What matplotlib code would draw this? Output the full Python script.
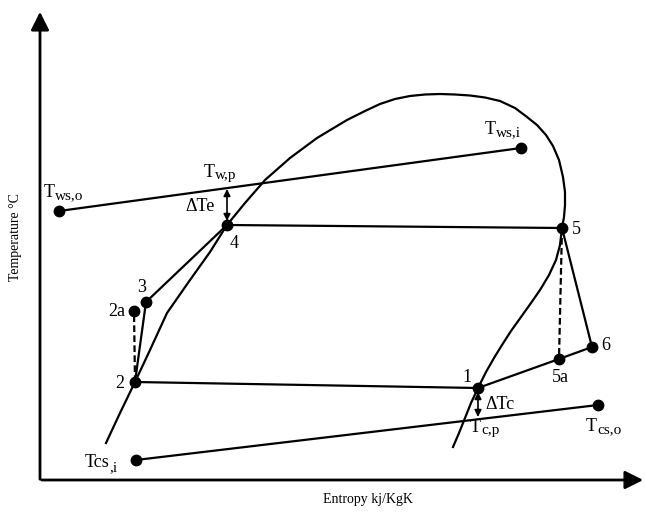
import matplotlib.pyplot as plt

plt.rcParams['font.family'] = ['Liberation Serif', 'DejaVu Serif']

# diagram drawn in image units (x = entropy, y = temperature, y grows downward)
dome_s = [106, 120, 135, 150, 167, 190, 210, 227, 245, 265, 290, 317, 347, 365, 380,
          395, 410, 425, 440, 455, 470, 485, 500, 515, 527, 537, 546, 553, 559, 563,
          565, 565, 564, 562, 560, 556, 549, 540, 531, 521, 511, 502, 494, 486, 478,
          471, 465, 459, 453]
dome_t = [443, 413, 382, 350, 313, 280, 252, 225, 203, 180, 158, 138, 120, 111, 104,
          99, 96, 94.5, 94, 94.5, 95.5, 97.5, 101, 108, 117, 125, 135, 146, 160, 177,
          192, 205, 217, 228, 245, 260, 275, 290, 303, 317, 331, 345, 358, 372, 388,
          403, 418, 433, 447]

state_names = ['1', '2', '2a', '3', '4', '5', '5a', '6']
state_s = [478, 135, 134, 146, 227, 562, 559, 592]
state_t = [388, 382, 311, 302, 225, 228, 359, 347]

# secondary fluid lines: water (evaporator) and cooling (condenser)
ws_s = [59, 521]
ws_t = [211, 148]
cs_s = [136, 598]
cs_t = [460, 405]

fig = plt.figure(figsize=(6.46, 5.12), dpi=100)
ax = fig.add_axes([0, 0, 1, 1])
ax.set_xlim(0, 646)
ax.set_ylim(512, 0)
ax.axis('off')

P = dict(zip(state_names, zip(state_s, state_t)))
lw = 1.6

ax.plot(dome_s, dome_t, color='black', lw=lw)

for a, b in [('2', '3'), ('3', '4'), ('4', '5'), ('5', '6'), ('6', '5a'), ('5a', '1'), ('1', '2')]:
    ax.plot([P[a][0], P[b][0]], [P[a][1], P[b][1]], color='black', lw=lw)
for a, b in [('2', '2a'), ('5', '5a')]:
    ax.plot([P[a][0], P[b][0]], [P[a][1], P[b][1]], color='black', lw=lw, ls=(0, (3, 1.5)))

ax.plot(ws_s, ws_t, color='black', lw=lw)
ax.plot(cs_s, cs_t, color='black', lw=lw)

ax.plot(state_s, state_t, 'o', color='black', ms=7.5)
ax.plot(ws_s, ws_t, 'o', color='black', ms=7.5)
ax.plot(cs_s, cs_t, 'o', color='black', ms=7.5)

# axes arrows
ax.annotate('', xy=(40, 9), xytext=(40, 482),
            arrowprops=dict(arrowstyle='-|>,head_length=1.1,head_width=0.55', color='black', lw=2))
ax.annotate('', xy=(646, 480), xytext=(39, 480),
            arrowprops=dict(arrowstyle='-|>,head_length=1.1,head_width=0.55', color='black', lw=2))

# temperature differences
ax.annotate('', xy=(227, 189), xytext=(227, 221),
            arrowprops=dict(arrowstyle='<|-|>,head_length=0.4,head_width=0.2', color='black', lw=1.2,
                            shrinkA=0, shrinkB=0))
ax.annotate('', xy=(478, 392), xytext=(478, 417),
            arrowprops=dict(arrowstyle='<|-|>,head_length=0.4,head_width=0.2', color='black', lw=1.2,
                            shrinkA=0, shrinkB=0))

fs = 13
renderer = fig.canvas.get_renderer()


def sub_label(x, y, main, sub, drop=2, gap=0):
    t = ax.text(x, y, main, fontsize=fs, ha='left', va='baseline')
    w = t.get_window_extent(renderer).width
    ax.text(x + w + gap, y + drop, sub, fontsize=11, ha='left', va='baseline')


sub_label(44, 197, 'T', 'ws,o')
sub_label(485, 134, 'T', 'ws,i')
sub_label(204, 177, 'T', 'w,p')
sub_label(470, 432, 'T', 'c,p')
sub_label(586, 431, 'T', 'cs,o')
sub_label(85, 467, 'Tcs', ',i', drop=4)

ax.text(185, 211, '\u0394Te', fontsize=fs, ha='left', va='baseline')
ax.text(485, 409, '\u0394Tc', fontsize=fs, ha='left', va='baseline')

points = [('1', 467, 377), ('2', 120, 383), ('2a', 117, 311), ('3', 142, 287), ('4', 234, 243),
          ('5', 576, 230), ('5a', 560, 377), ('6', 606, 346)]
for txt, x, y in points:
    ax.text(x, y, txt, fontsize=fs, ha='center', va='center')

ax.text(368, 499, 'Entropy kj/KgK', fontsize=10, ha='center', va='center')
ax.text(16, 237, 'Temperature \u00b0C', fontsize=10, ha='center', va='center', rotation=90)

fig.savefig('out.png', dpi=100)
